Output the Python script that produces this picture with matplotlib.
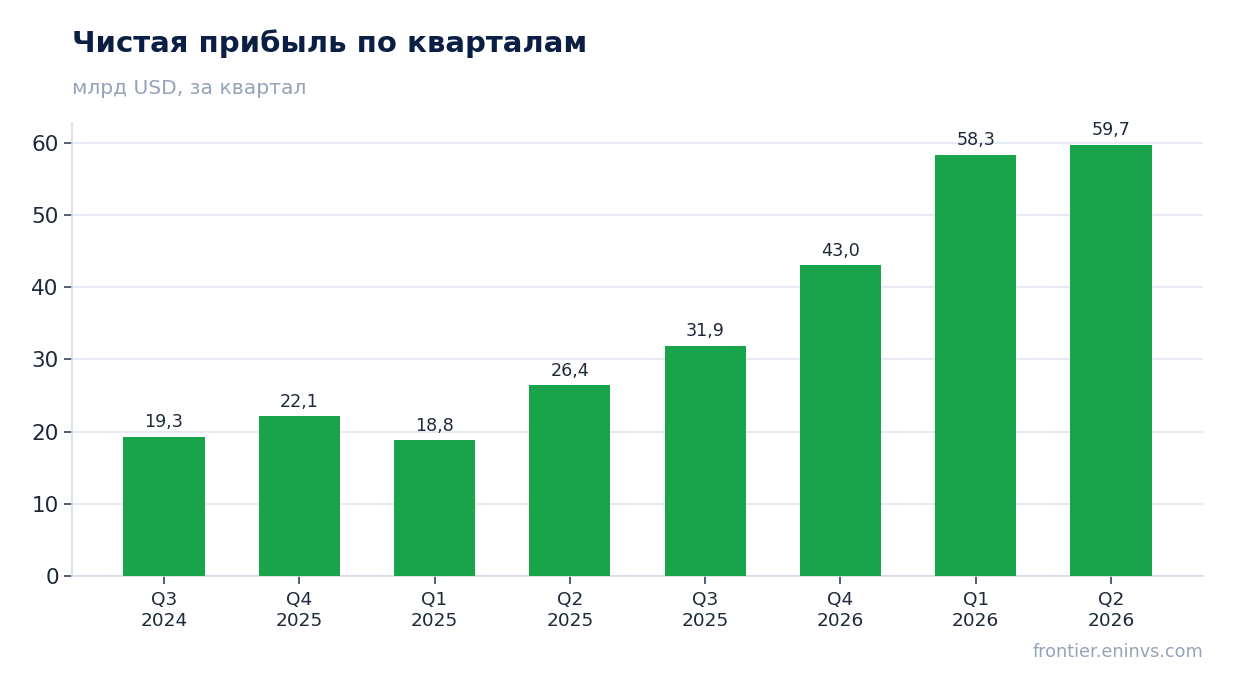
import matplotlib.pyplot as plt

quarters = ['Q3\n2024', 'Q4\n2025', 'Q1\n2025', 'Q2\n2025', 'Q3\n2025', 'Q4\n2026', 'Q1\n2026', 'Q2\n2026']
profit = [19.3, 22.1, 18.8, 26.4, 31.9, 43.0, 58.3, 59.7]
value_labels = ['19,3', '22,1', '18,8', '26,4', '31,9', '43,0', '58,3', '59,7']

plt.rcParams['font.family'] = ['DejaVu Sans']

fig = plt.figure(figsize=(12.34, 6.93), dpi=100)
ax = fig.add_axes([72 / 1234, 1 - 576 / 693, (1203 - 72) / 1234, (576 - 123) / 693])

x = range(len(profit))
bars = ax.bar(x, profit, width=0.6, color='#19a34a', zorder=3)
for b, lab in zip(bars, value_labels):
    ax.annotate(lab, (b.get_x() + b.get_width() / 2, b.get_height()),
                xytext=(0, 4), textcoords='offset points',
                ha='center', va='bottom', fontsize=12.6, color='#1e293b')

ax.set_ylim(0, 62.7)
ax.set_yticks([0, 10, 20, 30, 40, 50, 60])
ax.set_xticks(list(x))
ax.set_xticklabels(quarters, fontsize=13.3, color='#1e293b')
ax.tick_params(axis='y', labelsize=15.5, labelcolor='#1e293b', color='#334155', length=6, width=1.2)
ax.tick_params(axis='x', color='#334155', length=6, width=1.2, pad=5)
ax.grid(axis='y', color='#e2e8f0', linewidth=1.2, zorder=0)
ax.set_axisbelow(True)
for s in ['top', 'right']:
    ax.spines[s].set_visible(False)
for s in ['left', 'bottom']:
    ax.spines[s].set_color('#d5dbe6')
    ax.spines[s].set_linewidth(1.2)

fig.text(72 / 1234, 1 - 44 / 693, 'Чистая прибыль по кварталам', fontsize=21, fontweight='bold',
         color='#0b1f44', ha='left', va='center')
fig.text(72 / 1234, 1 - 88 / 693, 'млрд USD, за квартал', fontsize=14.6, color='#94a3b8',
         ha='left', va='center')
fig.text(1203 / 1234, 1 - 652 / 693, 'frontier.eninvs.com', fontsize=12.7, color='#94a3b8',
         ha='right', va='center')

fig.savefig('out.png', dpi=100)
